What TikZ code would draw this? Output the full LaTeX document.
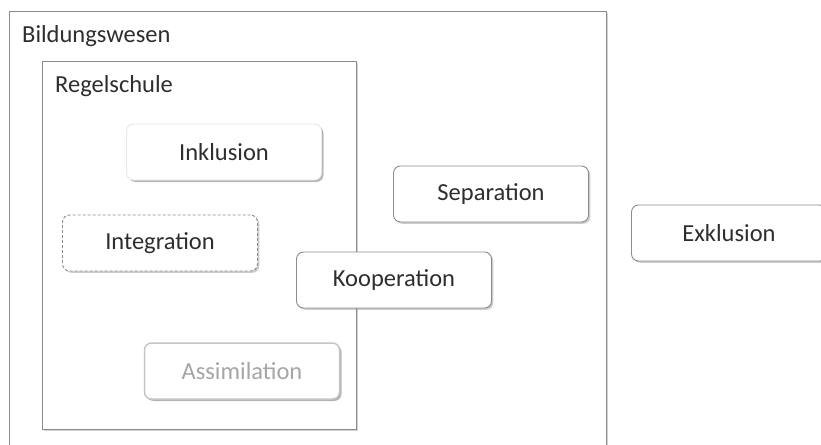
\documentclass[tikz,border=0pt]{standalone}
\usepackage{fontspec}
\setmainfont{Carlito}
\usetikzlibrary{shadows}

\definecolor{txtgray}{HTML}{2E2E2E}
\definecolor{linegray}{HTML}{8C8C8C}

\tikzset{
	frame/.style={draw=linegray, line width=1.3pt, fill=white, anchor=north west,
		drop shadow={shadow xshift=1.8pt, shadow yshift=-1.8pt, opacity=0.35}},
	box/.style={draw=linegray, line width=0.9pt, rounded corners=7pt, fill=white,
		minimum width=195pt, minimum height=56pt, text=txtgray,
		font=\fontsize{24.5}{28}\selectfont,
		drop shadow={shadow xshift=1.8pt, shadow yshift=-1.8pt, opacity=0.4}},
	title/.style={anchor=west, text=txtgray, inner sep=0pt, font=\fontsize{24.5}{28}\selectfont}
}

\begin{document}
\begin{tikzpicture}[x=1pt, y=-1pt]
	\clip (0,0) rectangle (821,444);
	\fill[white] (0,0) rectangle (821,444);

	% outer frame runs past the bottom edge
	\node[frame, minimum width=597pt, minimum height=470pt] (bildung) at (9,11) {};
	\node[title] (bildlabel) at (22,36) {Bildungswesen};

	% school frame
	\node[frame, minimum width=314pt, minimum height=368pt] (regel) at (42,61) {};
	\node[title] (regellabel) at (55,86) {Regelschule};

	% forms inside the school
	\node[box, draw=gray!18, drop shadow={shadow xshift=2pt, shadow yshift=-2pt, opacity=0.3}] (inklusion) at (224,152) {Inklusion};
	\node[box, dashed, dash pattern=on 3pt off 2pt] (integration) at (160,243) {Integration};
	\node[box, draw=gray!45, text=gray!70, line width=1.5pt,
		drop shadow={shadow xshift=2pt, shadow yshift=-2pt, opacity=0.35}] (assimilation) at (242,371) {Assimilation};

	% forms outside
	\foreach \x/\y/\name/\label in {394/280/kooperation/Kooperation, 491/194/separation/Separation, 729/233/exklusion/Exklusion} {
		\node[box] (\name) at (\x,\y) {\label};
	}
\end{tikzpicture}
\end{document}
